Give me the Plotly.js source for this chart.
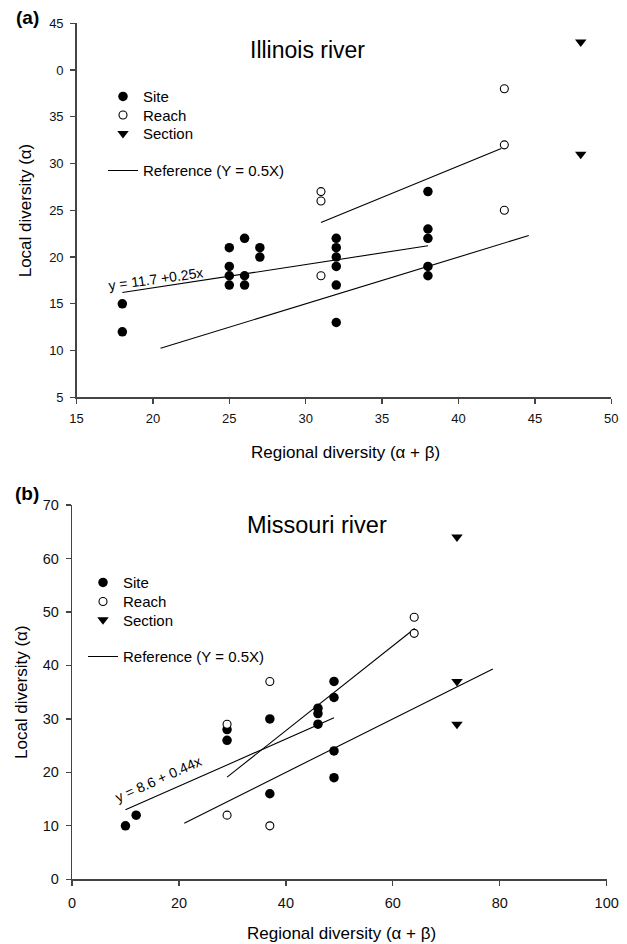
<!DOCTYPE html>
<html><head><meta charset="utf-8">
<script src="https://cdn.plot.ly/plotly-3.0.1.min.js"></script>
<style>html,body{margin:0;padding:0;background:#fff;}#chart{width:627px;height:944px;}</style>
</head><body><div id="chart"></div>
<script>
// ---------- Panel (a): Illinois river ----------
const ilSiteX = [18,18,25,25,25,25,26,26,26,27,27,32,32,32,32,32,32,38,38,38,38,38];
const ilSiteY = [15,12,21,19,18,17,22,18,17,21,20,22,21,20,19,17,13,27,23,22,19,18];
const ilReachX = [31,31,31,43,43,43];
const ilReachY = [27,26,18,38,32,25];
const ilSectionX = [48,48];
const ilSectionY = [43,31];
const ilFitX = [18,38];
const ilFitY = [16.2,21.2];
const ilRefX = [20.5,44.6];
const ilRefY = [10.25,22.3];
const ilReachLineX = [31,42.8];
const ilReachLineY = [23.7,31.6];
const ilXTickVals = [15,20,25,30,35,40,45,50];
const ilYTickVals = [5,10,15,20,25,30,35,40,45];
const ilYTickText = ['5','10','15','20','25','30','35','0','45'];

// ---------- Panel (b): Missouri river ----------
const moSiteX = [10,12,29,29,37,37,46,46,46,49,49,49,49];
const moSiteY = [10,12,28,26,30,16,32,31,29,37,34,24,19];
const moReachX = [29,29,37,37,64,64];
const moReachY = [29,12,37,10,49,46];
const moSectionX = [72,72,72];
const moSectionY = [64,37,29];
const moFitX = [10,49];
const moFitY = [13.0,30.2];
const moRefX = [21,78.7];
const moRefY = [10.5,39.35];
const moReachLineX = [29,64.1];
const moReachLineY = [19.1,46.9];
const moXTickVals = [0,20,40,60,80,100];
const moYTickVals = [0,10,20,30,40,50,60,70];

const legendNames = ['Site','Reach','Section','Reference (Y = 0.5X)'];
const FONT = 'Arial, "Liberation Sans", sans-serif';

function siteTrace(x,y,xa,ya,lg){return {x:x,y:y,xaxis:xa,yaxis:ya,type:'scatter',mode:'markers',name:legendNames[0],legend:lg,showlegend:true,
  marker:{symbol:'circle',size:9.5,color:'#000',line:{width:0}}};}
function reachTrace(x,y,xa,ya,lg){return {x:x,y:y,xaxis:xa,yaxis:ya,type:'scatter',mode:'markers',name:legendNames[1],legend:lg,showlegend:true,
  marker:{symbol:'circle',size:8,color:'#fff',line:{width:1.1,color:'#000'}}};}
function sectionTrace(x,y,xa,ya,lg){return {x:x,y:y,xaxis:xa,yaxis:ya,type:'scatter',mode:'markers',name:legendNames[2],legend:lg,showlegend:true,
  marker:{symbol:'triangle-down',size:10,color:'#000',line:{width:0}}};}
function lineTrace(x,y,xa,ya,lg,show){return {x:x,y:y,xaxis:xa,yaxis:ya,type:'scatter',mode:'lines',name:legendNames[3],legend:lg,
  showlegend:show,line:{color:'#000',width:1.1}};}

const data = [
  lineTrace(ilRefX,ilRefY,'x','y','legend4',true),
  lineTrace(ilFitX,ilFitY,'x','y','legend4',false),
  lineTrace(ilReachLineX,ilReachLineY,'x','y','legend4',false),
  siteTrace(ilSiteX,ilSiteY,'x','y','legend'),
  reachTrace(ilReachX,ilReachY,'x','y','legend2'),
  sectionTrace(ilSectionX,ilSectionY,'x','y','legend3'),
  lineTrace(moRefX,moRefY,'x2','y2','legend8',true),
  lineTrace(moFitX,moFitY,'x2','y2','legend8',false),
  lineTrace(moReachLineX,moReachLineY,'x2','y2','legend8',false),
  siteTrace(moSiteX,moSiteY,'x2','y2','legend5'),
  reachTrace(moReachX,moReachY,'x2','y2','legend6'),
  sectionTrace(moSectionX,moSectionY,'x2','y2','legend7')
];

function axisStyle(extra){return Object.assign({showline:true,linecolor:'#444',linewidth:1.3,ticks:'outside',ticklen:5,tickwidth:1.3,
  tickcolor:'#444',showgrid:false,zeroline:false,fixedrange:true,tickfont:{family:FONT,size:13,color:'#111'}},extra);}

function leg(xp,yp,size){return {x:xp/627,y:1-yp/944,xanchor:'left',yanchor:'middle',bgcolor:'rgba(0,0,0,0)',borderwidth:0,
  font:{family:FONT,size:size,color:'#000'}};}

const layout = {
  width:627,height:944,autosize:false,margin:{l:0,r:0,t:0,b:0},
  showlegend:true,
  paper_bgcolor:'#fff',plot_bgcolor:'rgba(0,0,0,0)',
  font:{family:FONT,color:'#000'},
  xaxis:axisStyle({domain:[76.5/627,611.3/627],range:[15,50],anchor:'y',tickvals:ilXTickVals,ticklabelstandoff:4}),
  yaxis:axisStyle({domain:[1-397.3/944,1-23.3/944],range:[5,45],anchor:'x',tickvals:ilYTickVals,ticktext:ilYTickText,ticklabelstandoff:4}),
  xaxis2:axisStyle({domain:[72/627,606.7/627],range:[0,100],anchor:'y2',tickvals:moXTickVals,ticklabelstandoff:5,tickfont:{family:FONT,size:14.5,color:'#111'}}),
  yaxis2:axisStyle({domain:[1-879.3/944,1-505/944],range:[0,70],anchor:'x2',tickvals:moYTickVals,ticklabelstandoff:4,tickfont:{family:FONT,size:14.5,color:'#111'}}),
  legend:leg(103,96.7,15), legend2:leg(103,115.3,15), legend3:leg(103,133.7,15), legend4:leg(103,170.7,15),
  legend5:leg(83,582.7,15), legend6:leg(83,601.7,15), legend7:leg(83,620,15), legend8:leg(83,656.7,15),
  annotations:[
    {text:'<b>(a)</b>',xref:'paper',yref:'paper',x:27.5/627,y:1-18/944,xanchor:'center',yanchor:'middle',showarrow:false,font:{size:19,family:FONT,color:'#000'}},
    {text:'<b>(b)</b>',xref:'paper',yref:'paper',x:26.5/627,y:1-493/944,xanchor:'center',yanchor:'middle',showarrow:false,font:{size:19,family:FONT,color:'#000'}},
    {text:'Illinois river',xref:'x',yref:'y',x:30.15,y:42.1,xanchor:'center',yanchor:'middle',showarrow:false,font:{size:23,family:FONT,color:'#000'}},
    {text:'Missouri river',xref:'x2',yref:'y2',x:45.9,y:66.3,xanchor:'center',yanchor:'middle',showarrow:false,font:{size:23.5,family:FONT,color:'#000'}},
    {text:'y = 11.7 +0.25x',xref:'x',yref:'y',x:20.17,y:17.7,xanchor:'center',yanchor:'middle',textangle:-8,showarrow:false,font:{size:14,family:FONT,color:'#000'}},
    {text:'y = 8.6 + 0.44x',xref:'x2',yref:'y2',x:16.2,y:18.76,xanchor:'center',yanchor:'middle',textangle:-24,showarrow:false,font:{size:14,family:FONT,color:'#000'}},
    {text:'Regional diversity (α + β)',xref:'paper',yref:'paper',x:345.8/627,y:1-452.3/944,xanchor:'center',yanchor:'middle',showarrow:false,font:{size:17,family:FONT,color:'#000'}},
    {text:'Regional diversity (α + β)',xref:'paper',yref:'paper',x:341/627,y:1-933.3/944,xanchor:'center',yanchor:'middle',showarrow:false,font:{size:17,family:FONT,color:'#000'}},
    {text:'Local diversity (α)',xref:'paper',yref:'paper',x:25/627,y:1-210.3/944,xanchor:'center',yanchor:'middle',textangle:-90,showarrow:false,font:{size:17,family:FONT,color:'#000'}},
    {text:'Local diversity (α)',xref:'paper',yref:'paper',x:21/627,y:1-692/944,xanchor:'center',yanchor:'middle',textangle:-90,showarrow:false,font:{size:17,family:FONT,color:'#000'}}
  ]
};

Plotly.newPlot('chart',data,layout,{displayModeBar:false,staticPlot:true});
</script>
</body></html>
